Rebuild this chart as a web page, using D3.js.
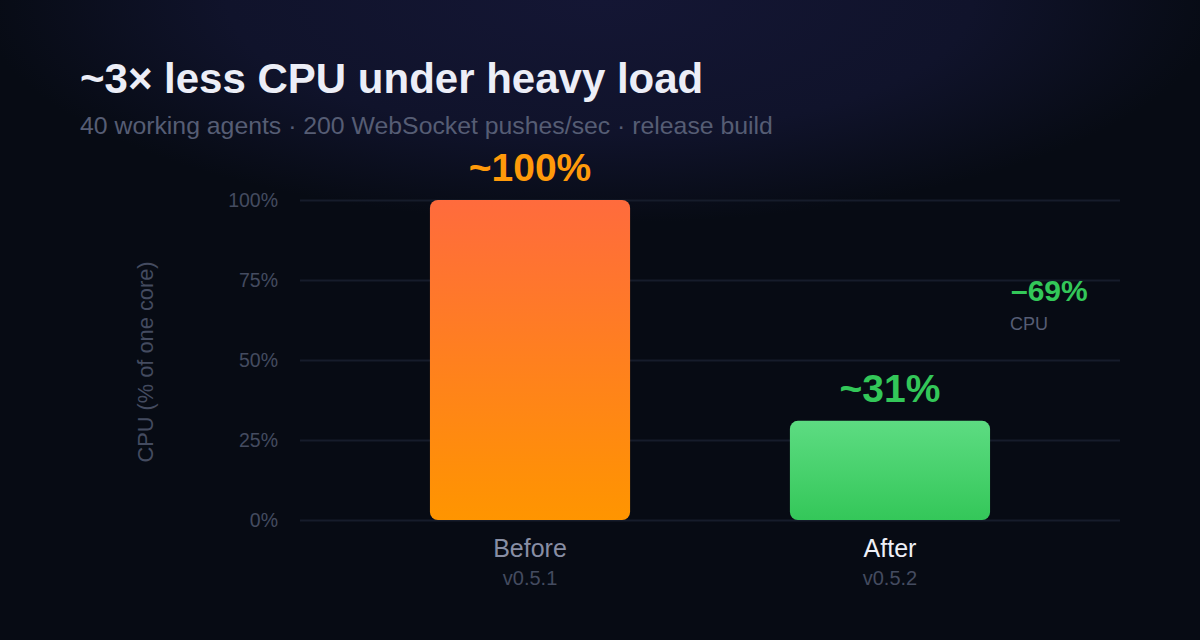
<!DOCTYPE html>
<html>
<head>
<meta charset="utf-8">
<script src="https://cdn.jsdelivr.net/npm/d3@7"></script>
<style>
  html, body { margin: 0; padding: 0; background: #070b14; }
  svg { display: block; font-family: "Liberation Sans", Arial, sans-serif; }
</style>
</head>
<body>
<svg id="chart"></svg>
<script>
const WIDTH = 1200;
const HEIGHT = 640;

const categories = ['Before', 'After'];
const versions = ['v0.5.1', 'v0.5.2'];
const cpuValues = [100, 31];
const valueLabels = ['~100%', '~31%'];
const yTicks = [0, 25, 50, 75, 100];

const plot = { left: 300, right: 1120, top: 200, bottom: 520 };

const svg = d3.select('#chart')
	.attr('width', WIDTH)
	.attr('height', HEIGHT);

const defs = svg.append('defs');

// top glow
const glow = defs.append('radialGradient')
	.attr('id', 'glow')
	.attr('gradientUnits', 'userSpaceOnUse')
	.attr('cx', 600).attr('cy', 0).attr('r', 620)
	.attr('gradientTransform', 'translate(600,0) scale(1,0.36) translate(-600,0)');
glow.append('stop').attr('offset', '0%').attr('stop-color', '#141634');
glow.append('stop').attr('offset', '60%').attr('stop-color', '#10132b');
glow.append('stop').attr('offset', '100%').attr('stop-color', '#070b14');

const barGradients = [
	{ id: 'grad-before', top: '#ff6b3d', bottom: '#ff9500' },
	{ id: 'grad-after', top: '#5ddc82', bottom: '#34c759' },
];
barGradients.forEach((g) => {
	const lg = defs.append('linearGradient')
		.attr('id', g.id)
		.attr('x1', 0).attr('y1', 0).attr('x2', 0).attr('y2', 1);
	lg.append('stop').attr('offset', '0%').attr('stop-color', g.top);
	lg.append('stop').attr('offset', '100%').attr('stop-color', g.bottom);
});

svg.append('rect')
	.attr('width', WIDTH)
	.attr('height', HEIGHT)
	.attr('fill', '#070b14');
svg.append('rect')
	.attr('width', WIDTH)
	.attr('height', HEIGHT)
	.attr('fill', 'url(#glow)');

// title
svg.append('text')
	.attr('x', 80).attr('y', 93)
	.attr('fill', '#eceef7')
	.attr('font-size', 42)
	.attr('font-weight', 700)
	.text('~3× less CPU under heavy load');

svg.append('text')
	.attr('x', 80).attr('y', 134)
	.attr('fill', '#565d74')
	.attr('font-size', 24.8)
	.text('40 working agents · 200 WebSocket pushes/sec · release build');

const x = d3.scaleBand()
	.domain(categories)
	.range([plot.left, plot.right])
	.paddingInner(0.444)
	.paddingOuter(0.361);

const y = d3.scaleLinear()
	.domain([0, 100])
	.range([plot.bottom, plot.top]);

// gridlines + tick labels
const yAxis = svg.append('g')
	.attr('transform', `translate(${plot.left},0)`)
	.call(
		d3.axisLeft(y)
			.tickValues(yTicks)
			.tickSize(-(plot.right - plot.left))
			.tickPadding(22)
			.tickFormat((d) => d + '%')
	);
yAxis.select('.domain').remove();
yAxis.selectAll('.tick line')
	.attr('stroke', '#161c2b')
	.attr('stroke-width', 2);
yAxis.selectAll('.tick text')
	.attr('fill', '#444b60')
	.attr('font-size', 19.5)
	.attr('font-family', '"Liberation Sans", Arial, sans-serif');

svg.append('text')
	.attr('transform', `translate(153,${(plot.top + plot.bottom) / 2 + 2}) rotate(-90)`)
	.attr('text-anchor', 'middle')
	.attr('fill', '#444b60')
	.attr('font-size', 21.8)
	.text('CPU (% of one core)');

// bars
svg.append('g')
	.selectAll('rect')
	.data(categories)
	.enter()
	.append('rect')
	.attr('x', (d) => x(d))
	.attr('y', (d, i) => y(cpuValues[i]))
	.attr('width', x.bandwidth())
	.attr('height', (d, i) => y(0) - y(cpuValues[i]))
	.attr('rx', 8)
	.attr('fill', (d, i) => `url(#${barGradients[i].id})`);

// value labels
const valueColors = ['#ff9a0a', '#33c759'];
svg.append('g')
	.selectAll('text')
	.data(categories)
	.enter()
	.append('text')
	.attr('x', (d) => x(d) + x.bandwidth() / 2)
	.attr('y', (d, i) => y(cpuValues[i]) - 19)
	.attr('text-anchor', 'middle')
	.attr('fill', (d, i) => valueColors[i])
	.attr('font-size', 39)
	.attr('font-weight', 700)
	.text((d, i) => valueLabels[i]);

// category labels
const catLabels = svg.append('g')
	.selectAll('g')
	.data(categories)
	.enter()
	.append('g')
	.attr('transform', (d) => `translate(${x(d) + x.bandwidth() / 2},0)`);
catLabels.append('text')
	.attr('y', 557)
	.attr('text-anchor', 'middle')
	.attr('fill', (d, i) => (i === 1 ? '#eef0f8' : '#888ea4'))
	.attr('font-size', 25)
	.text((d) => d);
catLabels.append('text')
	.attr('y', 585)
	.attr('text-anchor', 'middle')
	.attr('fill', '#444b60')
	.attr('font-size', 20)
	.text((d, i) => versions[i]);

// delta annotation
const delta = Math.round(cpuValues[1] - cpuValues[0]);
svg.append('text')
	.attr('x', 1011).attr('y', 301)
	.attr('fill', '#33c759')
	.attr('font-size', 30)
	.attr('font-weight', 700)
	.text('–' + Math.abs(delta) + '%');
svg.append('text')
	.attr('x', 1010).attr('y', 330)
	.attr('fill', '#565d74')
	.attr('font-size', 18)
	.text('CPU');
</script>
</body>
</html>
